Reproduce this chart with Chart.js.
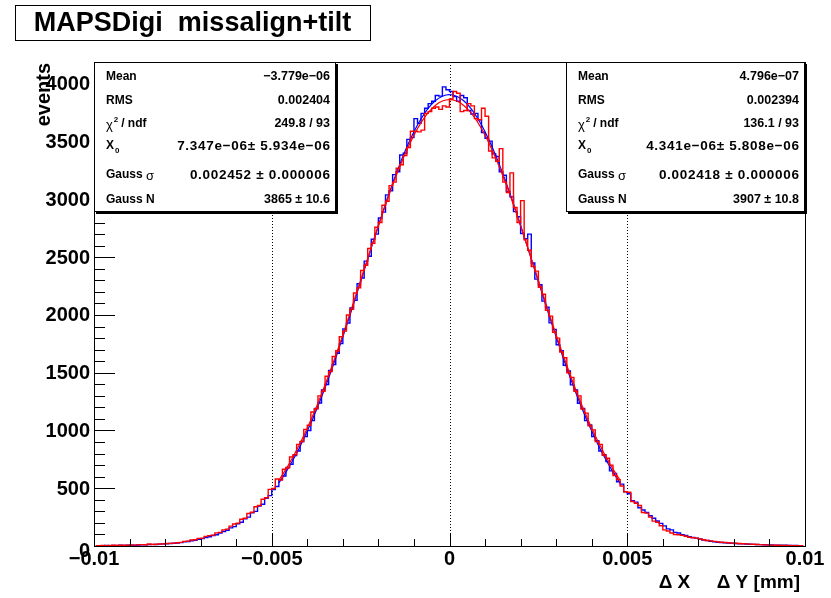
<!DOCTYPE html>
<html>
<head>
<meta charset="utf-8">
<script src="https://cdn.jsdelivr.net/npm/chart.js@4.4.1/dist/chart.umd.min.js"></script>
<style>
  html, body { margin: 0; padding: 0; background: #fff; }
  #wrap { width: 831px; height: 598px; position: relative; }
</style>
</head>
<body>
<div id="wrap"><canvas id="histChart"></canvas></div>
<script>
// binning of both histograms
const xMin = -0.01, xMax = 0.01, nBins = 200;
const yMax = 4190;

// tick labels
const xTickValues = [-0.01, -0.005, 0, 0.005, 0.01];
const xTickLabels = ['\u22120.01', '\u22120.005', '0', '0.005', '0.01'];
const yTickValues = [0, 500, 1000, 1500, 2000, 2500, 3000, 3500, 4000];

// blue histogram (right stats box), 200 bins from -0.01 to 0.01
const blueCounts = [
  2,3,2,4,3,5,4,6,5,7,8,7,9,10,11,12,14,13,16,18,20,21,24,26,29,
  36,39,46,50,57,64,73,80,91,98,
  113,125,136,157,168,192,206,236,250,287,
  300,345,362,412,436,488,515,575,606,680,
  708,783,822,904,948,1000,1085,1190,1238,1352,
  1398,1520,1570,1668,1752,1880,1930,2060,2128,2270,
  2320,2466,2508,2655,2700,2840,2890,3040,3075,3215,
  3240,3385,3400,3520,3535,3700,3660,3745,3790,3830,
  3850,3900,3895,3975,3950,
  3935,3890,3850,3900,3880,3770,3740,3745,3690,3580,
  3530,3505,3395,3372,3240,3210,3070,3022,2895,2850,
  2705,2660,2700,2450,2310,2262,2120,2068,1932,1875,
  1742,1690,1565,1516,1395,1352,1236,1190,1085,1047,
  948,912,822,790,731,650,628,556,536,470,
  452,392,380,331,312,290,262,240,216,196,
  174,148,140,118,112,98,92,80,74,68,
  60,52,47,41,37,
  33,30,28,25,24,22,20,19,17,15,14,13,12,11,10,9,8,7,6,6,5,4,4,3,3
];

// red histogram (left stats box)
const redCounts = [
  3,2,4,3,4,6,5,7,6,8,9,8,10,12,11,17,13,15,18,17,21,23,25,28,31,
  40,42,52,54,66,68,83,90,94,114,
  118,140,146,172,190,198,232,240,281,292,
  340,350,405,418,490,498,580,572,665,678,
  770,790,880,905,1010,1045,1160,1188,1300,1340,
  1470,1510,1640,1690,1812,1860,2000,2050,2190,2235,
  2385,2430,2575,2620,2760,2800,2950,2985,3120,3150,
  3270,3300,3380,3450,3590,3590,3585,3600,3745,3760,
  3790,3800,3780,3810,3800,
  3870,3935,3920,3760,3770,3830,3810,3700,3690,3790,
  3720,3420,3360,3330,3440,3150,3060,3230,2930,2800,
  2990,2650,2560,2420,2380,2240,2180,2040,1990,1850,
  1800,1680,1630,1500,1460,1340,1300,1185,1150,1040,
  1005,905,880,785,760,700,610,575,520,470,
  465,385,370,350,290,285,250,215,205,175,
  140,130,112,100,98,92,85,76,72,68,
  60,54,47,44,40,
  36,33,30,28,25,24,22,20,18,16,15,13,12,10,9,8,7,6,5,5,4,3,3,2,2
];

// gaussian fit curves, sampled every 0.0002 from -0.0048 to 0.0048
const fitStart = -0.0048, fitStep = 0.0002;
const blueFit = [545,640,746,864,995,1136,1290,1454,1628,1810,1998,2192,2387,2583,2775,2962,3139,3304,3454,3587,3699,3789,3854,3894,
  3907,
  3894,3854,3789,3699,3587,3454,3304,3139,2962,2775,2583,2387,2192,1998,1810,1628,1454,1290,1136,995,864,746,640,545];
const redFit = [569,665,773,891,1022,1163,1315,1478,1649,1828,2014,2203,2394,2584,2771,2952,3124,3284,3429,3557,3665,3751,3814,3852,
  3865,
  3852,3814,3751,3665,3557,3429,3284,3124,2952,2771,2584,2394,2203,2014,1828,1649,1478,1315,1163,1022,891,773,665,569];

// texts
const titleText = 'MAPSDigi  missalign+tilt';
const yTitle = 'events';
const xTitle = '\u0394 X     \u0394 Y [mm]';
const leftStatValues = ['\u22123.779e\u221206', '0.002404', '249.8 / 93', '7.347e\u221206\u00b1 5.934e\u221206', '0.002452 \u00b1 0.000006', '3865 \u00b1 10.6'];
const rightStatValues = ['4.796e\u221207', '0.002394', '136.1 / 93', '4.341e\u221206\u00b1 5.808e\u221206', '0.002418 \u00b1 0.000006', '3907 \u00b1 10.8'];

const FONT = "'Liberation Sans', Arial, Helvetica, sans-serif";
const binWidth = (xMax - xMin) / nBins;
const histPoints = counts => counts.map((v, i) => ({ x: xMin + (i + 0.5) * binWidth, y: v }));
const fitPoints = vals => vals.map((v, i) => ({ x: fitStart + i * fitStep, y: v }));

function drawStats(ctx, left, top, right, bottom, values) {
  ctx.save();
  // shadow
  ctx.fillStyle = '#000';
  ctx.fillRect(left + 2, bottom, right - left, 2);
  ctx.fillRect(right, top + 2, 2, bottom - top);
  ctx.fillStyle = '#fff';
  ctx.fillRect(left, top, right - left, bottom - top);
  ctx.strokeStyle = '#000';
  ctx.lineWidth = 1;
  ctx.strokeRect(left + 0.5, top + 0.5, right - left - 1, bottom - top - 1);

  const rows = [77, 101, 124, 146, 175, 200];
  const lx = left + 12, rx = right - 6;
  ctx.fillStyle = '#000';
  ctx.textBaseline = 'middle';
  ctx.font = 'bold 12px ' + FONT;
  ctx.textAlign = 'left';
  ctx.fillText('Mean', lx, rows[0]);
  ctx.fillText('RMS', lx, rows[1]);
  // chi2 / ndf
  ctx.font = '13px ' + FONT;
  ctx.fillText('\u03c7', lx, rows[2] + 1);
  let w = ctx.measureText('\u03c7').width;
  ctx.font = 'bold 8px ' + FONT;
  ctx.fillText('2', lx + w + 1, rows[2] - 4);
  ctx.font = 'bold 12px ' + FONT;
  ctx.fillText(' / ndf', lx + w + 5, rows[2]);
  // X0
  ctx.fillText('X', lx, rows[3]);
  w = ctx.measureText('X').width;
  ctx.font = 'bold 8px ' + FONT;
  ctx.fillText('0', lx + w + 1, rows[3] + 5);
  ctx.font = 'bold 12px ' + FONT;
  ctx.fillText('Gauss ', lx, rows[4]);
  w = ctx.measureText('Gauss ').width;
  ctx.font = '13px ' + FONT;
  ctx.fillText('\u03c3', lx + w, rows[4] + 1);
  ctx.font = 'bold 12px ' + FONT;
  ctx.fillText('Gauss N', lx, rows[5]);

  ctx.textAlign = 'right';
  values.forEach((t, i) => {
    // the two long "value ± error" rows are set a little wider in the original
    const wide = i === 3 || i === 4;
    ctx.font = (wide ? 'bold 13.5px ' : 'bold 12.5px ') + FONT;
    ctx.letterSpacing = wide ? '0.7px' : '0px';
    ctx.fillText(t, rx + (wide ? 0.7 : 0), rows[i]);
  });
  ctx.letterSpacing = '0px';
  ctx.restore();
}

const rootStyle = {
  id: 'rootStyle',
  beforeDatasetsDraw(chart) {
    const { ctx, chartArea: a, scales: { x, y } } = chart;
    ctx.save();
    // tick labels
    ctx.fillStyle = '#000';
    ctx.font = 'bold 20px ' + FONT;
    ctx.textAlign = 'right';
    ctx.textBaseline = 'middle';
    yTickValues.forEach(v => {
      ctx.fillText(String(v), a.left - 4, y.getPixelForValue(v) + (v === 0 ? 5 : 1));
    });
    ctx.textAlign = 'center';
    ctx.textBaseline = 'top';
    xTickValues.forEach((v, i) => {
      ctx.fillText(xTickLabels[i], x.getPixelForValue(v), a.bottom + 3);
    });
    // dotted grid at inner major ticks
    ctx.strokeStyle = '#000';
    ctx.lineWidth = 1;
    ctx.setLineDash([1, 2]);
    xTickValues.slice(1, -1).forEach(v => {
      const px = Math.round(x.getPixelForValue(v)) + 0.5;
      ctx.beginPath();
      ctx.moveTo(px, a.top);
      ctx.lineTo(px, a.bottom);
      ctx.stroke();
    });
    ctx.restore();
  },
  afterDatasetsDraw(chart) {
    const { ctx, chartArea: a, scales: { x, y } } = chart;
    ctx.save();
    ctx.strokeStyle = '#000';
    ctx.lineWidth = 1;
    // inward ticks on x
    for (let i = -10; i <= 10; i++) {
      const px = Math.round(x.getPixelForValue(i * 0.001)) + 0.5;
      const len = i % 5 === 0 ? 12 : 7;
      ctx.beginPath();
      ctx.moveTo(px, a.bottom);
      ctx.lineTo(px, a.bottom - len);
      ctx.stroke();
    }
    // inward ticks on y
    for (let v = 0; v <= yMax; v += 100) {
      const py = Math.round(y.getPixelForValue(v)) + 0.5;
      const len = v % 500 === 0 ? 21 : 11;
      ctx.beginPath();
      ctx.moveTo(a.left, py);
      ctx.lineTo(a.left + len, py);
      ctx.stroke();
    }
    // frame
    ctx.strokeRect(Math.round(a.left) + 0.5, Math.round(a.top) + 0.5, Math.round(a.right - a.left), Math.round(a.bottom - a.top));
    ctx.restore();
  },
  afterDraw(chart) {
    const { ctx, chartArea: a } = chart;
    drawStats(ctx, a.left, a.top, 336, 212, leftStatValues);
    drawStats(ctx, 566, a.top, a.right, 212, rightStatValues);

    ctx.save();
    // title box
    ctx.fillStyle = '#fff';
    ctx.fillRect(15, 5, 355, 35);
    ctx.strokeStyle = '#000';
    ctx.lineWidth = 1;
    ctx.strokeRect(15.5, 5.5, 355, 35);
    ctx.fillStyle = '#000';
    ctx.font = 'bold 27px ' + FONT;
    ctx.textAlign = 'center';
    ctx.textBaseline = 'middle';
    ctx.fillText(titleText, 192.5, 24);

    // axis titles
    ctx.font = 'bold 19px ' + FONT;
    ctx.textAlign = 'right';
    ctx.textBaseline = 'alphabetic';
    ctx.fillText(xTitle, 800, 588);

    ctx.translate(50, a.top + 1);
    ctx.rotate(-Math.PI / 2);
    ctx.font = 'bold 20px ' + FONT;
    ctx.textAlign = 'right';
    ctx.fillText(yTitle, 0, 0);
    ctx.restore();
  }
};

const ctx = document.getElementById('histChart').getContext('2d');
new Chart(ctx, {
  type: 'line',
  data: {
    datasets: [
      { label: 'red fit', data: fitPoints(redFit), borderColor: '#ff0000', borderWidth: 1.2, tension: 0.4, cubicInterpolationMode: 'monotone', order: 0 },
      { label: 'red', data: histPoints(redCounts), borderColor: '#ff0000', borderWidth: 1.4, stepped: 'middle', order: 1 },
      { label: 'blue fit', data: fitPoints(blueFit), borderColor: '#0000ff', borderWidth: 1.2, tension: 0.4, cubicInterpolationMode: 'monotone', order: 2 },
      { label: 'blue', data: histPoints(blueCounts), borderColor: '#0000ff', borderWidth: 1.4, stepped: 'middle', order: 3 }
    ]
  },
  options: {
    responsive: true,
    maintainAspectRatio: false,
    animation: false,
    layout: { padding: { top: 62, right: 26, left: 0, bottom: 0 } },
    elements: { point: { radius: 0 } },
    plugins: {
      legend: { display: false },
      tooltip: { enabled: false },
      title: { display: false }
    },
    scales: {
      x: {
        type: 'linear',
        min: xMin,
        max: xMax,
        grid: { display: false, drawTicks: false },
        border: { display: false },
        ticks: { display: false },
        afterFit: s => { s.height = 52; }
      },
      y: {
        min: 0,
        max: yMax,
        grid: { display: false, drawTicks: false },
        border: { display: false },
        ticks: { display: false },
        afterFit: s => { s.width = 94; }
      }
    }
  },
  plugins: [rootStyle]
});
</script>
</body>
</html>
